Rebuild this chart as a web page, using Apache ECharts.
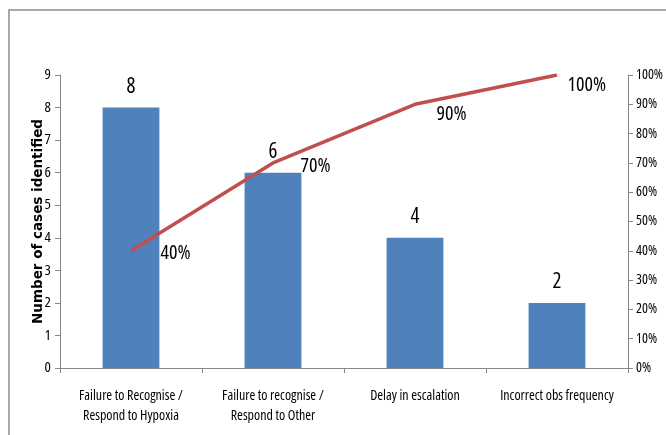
<!DOCTYPE html>
<html><head><meta charset="utf-8">
<script src="https://cdn.jsdelivr.net/npm/echarts@6/dist/echarts.min.js"></script>
<style>html,body{margin:0;padding:0;background:#fff}#c{width:666px;height:435px}</style>
</head><body><div id="c"></div>
<script>
const categories = ["Failure to Recognise /\nRespond to Hypoxia", "Failure to recognise /\nRespond to Other", "Delay in escalation", "Incorrect obs frequency"];
const caseCounts = [8, 6, 4, 2];
const cumulativePct = [40, 70, 90, 100];
const leftTicks = [0, 9, 1];
const rightTicks = [0, 100, 10];
// label nudges (style only)
const lineLabelOffsets = [[29, 2], [27, 3], [21, 10], [10, 10]];

const FONT = "'Open Sans', sans-serif";
const COND = 'condensed';
const chart = echarts.init(document.getElementById('c'));
chart.setOption({
  animation: false,
  textStyle: {fontFamily: FONT, fontStyle: COND},
  graphic: [{type: 'rect', shape: {x: 9, y: 10, width: 700, height: 500}, style: {fill: 'none', stroke: '#8c8c8c', lineWidth: 1.5}, silent: true}],
  grid: {left: 60, right: 38, top: 75, bottom: 67},
  xAxis: {
    type: 'category', data: categories,
    axisLine: {lineStyle: {color: '#868686'}},
    axisTick: {show: true, length: 5, lineStyle: {color: '#868686'}},
    axisLabel: {color: '#000', fontSize: 14, fontFamily: FONT, fontStyle: COND, lineHeight: 20, margin: 18, interval: 0}
  },
  yAxis: [{
    type: 'value', min: leftTicks[0], max: leftTicks[1], interval: leftTicks[2],
    name: 'Number of cases identified', nameLocation: 'middle', nameGap: 15, nameRotate: 90, nameMoveOverlap: false,
    nameTextStyle: {fontFamily: "'DejaVu Sans', Verdana, sans-serif", fontStyle: 'normal', fontWeight: 'bold', fontSize: 13.5, color: '#000'},
    axisLine: {show: true, lineStyle: {color: '#868686'}},
    axisTick: {show: true, length: 5, lineStyle: {color: '#868686'}},
    splitLine: {show: false},
    axisLabel: {color: '#000', fontSize: 15, fontFamily: FONT, fontStyle: COND, margin: 9}
  }, {
    type: 'value', min: rightTicks[0], max: rightTicks[1], interval: rightTicks[2], position: 'right',
    axisLine: {show: true, lineStyle: {color: '#868686'}},
    axisTick: {show: true, length: 5, lineStyle: {color: '#868686'}},
    splitLine: {show: false},
    axisLabel: {color: '#000', fontSize: 14, fontFamily: FONT, fontStyle: COND, margin: 8, formatter: '{value}%'}
  }],
  series: [{
    type: 'bar', data: caseCounts, barWidth: '40%', yAxisIndex: 0,
    itemStyle: {color: '#4F81BD'},
    label: {show: true, position: 'top', distance: 10, color: '#000', fontSize: 21, fontFamily: FONT, fontStyle: COND}
  }, {
    type: 'line', yAxisIndex: 1, symbol: 'circle', symbolSize: 1, showSymbol: true,
    data: cumulativePct,
    itemStyle: {color: 'rgba(0,0,0,0)'},
    lineStyle: {color: '#C0504D', width: 3.5},
    label: {show: true, position: 'right', distance: 0, color: '#000', fontSize: 20, fontFamily: FONT, fontStyle: COND, formatter: '{c}%'},
    labelLayout: function (p) {
      const o = lineLabelOffsets[p.dataIndex] || [0, 0];
      return {dx: o[0], dy: o[1], hideOverlap: false, moveOverlap: false};
    }
  }]
});
</script></body></html>
